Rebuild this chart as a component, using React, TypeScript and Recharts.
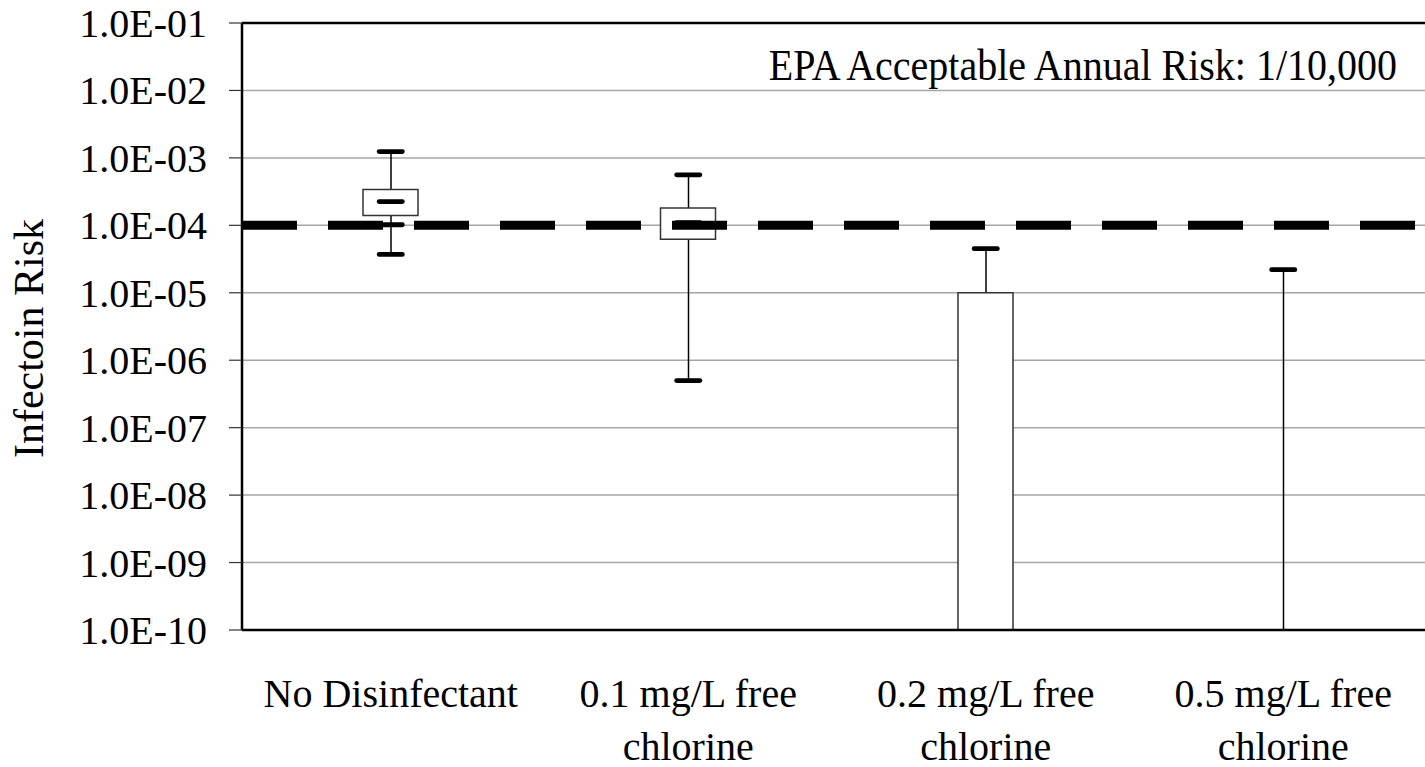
import {
  Bar,
  CartesianGrid,
  ComposedChart,
  ReferenceLine,
  Scatter,
  XAxis,
  YAxis,
} from 'recharts'

const categories = [
  'No Disinfectant',
  '0.1 mg/L free\nchlorine',
  '0.2 mg/L free\nchlorine',
  '0.5 mg/L free\nchlorine',
]

// risk values; below 1E-10 means off the chart
const maxRisk = [1.24e-3, 5.6e-4, 4.5e-5, 2.2e-5]
const q3Risk = [3.4e-4, 1.8e-4, 1.0e-5, null]
const medianRisk = [2.25e-4, 1.1e-4, null, null]
const q1Risk = [1.4e-4, 6.2e-5, 1.0e-11, null]
const lowMarkRisk = [1.02e-4, null, null, null]
const minRisk = [3.7e-5, 5.0e-7, 1.0e-12, 1.0e-12]

const riskTicks = [1e-1, 1e-2, 1e-3, 1e-4, 1e-5, 1e-6, 1e-7, 1e-8, 1e-9, 1e-10]
const epaRisk = 1e-4
const edgeTicks = [0, 1, 2, 3, 4]

const SERIF = "'Liberation Serif', 'Times New Roman', serif"
const textStyle = { fontFamily: SERIF, fontSize: 40, fill: '#000' }

const rows = categories.map((cat, i) => ({
  cat,
  max: maxRisk[i],
  q3: q3Risk[i],
  median: medianRisk[i],
  q1: q1Risk[i],
  lowMark: lowMarkRisk[i],
  min: minRisk[i],
  box: q3Risk[i] == null ? null : [q1Risk[i], q3Risk[i]],
  whisker: [minRisk[i], maxRisk[i]],
}))

function formatRisk(v: number): string {
  const [m, e] = v.toExponential(1).split('e')
  const exp = parseInt(e, 10)
  return `${m}E${exp < 0 ? '-' : '+'}${String(Math.abs(exp)).padStart(2, '0')}`
}

function WhiskerShape(props: any) {
  const { x, y, width, height } = props
  if (!Number.isFinite(y) || !Number.isFinite(height)) return <g />
  const cx = x + width / 2
  return <line x1={cx} x2={cx} y1={y} y2={y + height} stroke="#000" strokeWidth={1.5} />
}

function capShape(key: string) {
  return (props: any) => {
    const { cx, cy, payload } = props
    if (payload?.[key] == null || !Number.isFinite(cy)) return <g />
    return <rect x={cx - 14} y={cy - 2.4} width={28} height={4.8} rx={2.4} fill="#000" />
  }
}

function CategoryTick(props: any) {
  const { x, y, payload } = props
  const lines = String(payload.value).split('\n')
  return (
    <text x={x} y={y} textAnchor="middle" style={textStyle}>
      {lines.map((line, i) => (
        <tspan key={i} x={x} dy={i === 0 ? 64 : 53}>
          {line}
        </tspan>
      ))}
    </text>
  )
}

function RiskTick(props: any) {
  const { x, y, payload } = props
  return (
    <text x={x} y={y} dy={14} textAnchor="end" style={textStyle}>
      {formatRisk(payload.value)}
    </text>
  )
}

export default function App() {
  return (
    <div
      style={{
        position: 'fixed',
        left: 0,
        top: 0,
        width: 1425,
        height: 767,
        overflow: 'hidden',
        background: '#fff',
      }}
    >
      <ComposedChart
        width={1432}
        height={767}
        data={rows}
        margin={{ top: 23, right: 0, bottom: 0, left: 0 }}
      >
        <CartesianGrid xAxisId="cat" vertical={false} stroke="#a6a6a6" strokeWidth={1.5} />
        <XAxis
          xAxisId="cat"
          dataKey="cat"
          interval={0}
          height={124}
          tickSize={0}
          tickMargin={0}
          axisLine={false}
          tickLine={false}
          tick={<CategoryTick />}
        />
        <XAxis
          xAxisId="aEdge"
          type="number"
          domain={[0, 4]}
          ticks={edgeTicks}
          tick={false}
          tickSize={13}
          height={13}
          axisLine={{ stroke: '#000', strokeWidth: 2.5 }}
          tickLine={{ stroke: '#333', strokeWidth: 1.2 }}
        />
        <XAxis xAxisId="whisk" dataKey="cat" hide />
        <YAxis
          scale="log"
          domain={[1e-10, 1e-1]}
          allowDataOverflow
          ticks={riskTicks}
          interval={0}
          width={242}
          tickSize={13}
          tickMargin={22}
          axisLine={{ stroke: '#000', strokeWidth: 2.5 }}
          tickLine={{ stroke: '#333', strokeWidth: 1.2 }}
          tick={<RiskTick />}
          label={{
            content: ({ viewBox }: any) => {
              const cy = viewBox.y + viewBox.height / 2 + 12
              return (
                <text
                  x={29}
                  y={cy}
                  transform={`rotate(-90 29 ${cy})`}
                  textAnchor="middle"
                  dominantBaseline="central"
                  style={{ ...textStyle, fontSize: 42 }}
                >
                  Infectoin Risk
                </text>
              )
            },
          }}
        />
        <Bar
          xAxisId="whisk"
          dataKey="whisker"
          barSize={2}
          shape={<WhiskerShape />}
          isAnimationActive={false}
        />
        <Bar
          xAxisId="cat"
          dataKey="box"
          barSize={55}
          fill="#fff"
          stroke="#333"
          strokeWidth={1.5}
          isAnimationActive={false}
        />
        <ReferenceLine
          xAxisId="cat"
          y={epaRisk}
          stroke="#000"
          strokeWidth={9}
          strokeDasharray="55 31"
          zIndex={450}
        />
        <ReferenceLine
          xAxisId="cat"
          y={1e-1}
          stroke="#000"
          strokeWidth={2.5}
          label={{
            content: ({ viewBox }: any) => {
              const by = viewBox.y + 57
              return (
                <text
                  x={viewBox.x + viewBox.width - 35}
                  y={by}
                  transform={`translate(0 ${by}) scale(1 1.1) translate(0 ${-by})`}
                  textAnchor="end"
                  style={textStyle}
                >
                  EPA Acceptable Annual Risk: 1/10,000
                </text>
              )
            },
          }}
        />
        <Scatter xAxisId="cat" dataKey="max" shape={capShape('max')} isAnimationActive={false} />
        <Scatter xAxisId="cat" dataKey="median" shape={capShape('median')} isAnimationActive={false} />
        <Scatter xAxisId="cat" dataKey="lowMark" shape={capShape('lowMark')} isAnimationActive={false} />
        <Scatter xAxisId="cat" dataKey="min" shape={capShape('min')} isAnimationActive={false} />
      </ComposedChart>
    </div>
  )
}
